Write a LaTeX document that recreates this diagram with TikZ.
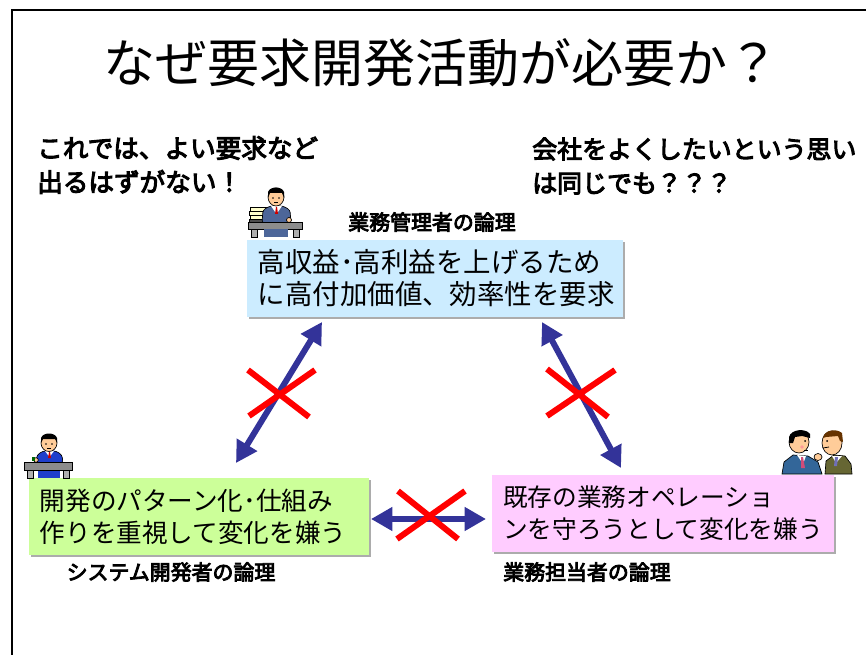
\documentclass[tikz,border=0pt]{standalone}
\usepackage{fontspec}
\newfontfamily\jp{Noto Sans CJK JP}
\newfontfamily\jpb{Noto Sans CJK JP}[FakeBold=4]
\usetikzlibrary{arrows.meta,shadows}

\definecolor{topfill}{HTML}{CCECFF}
\definecolor{devfill}{HTML}{CCFF99}
\definecolor{opsfill}{HTML}{FFCCFF}
\definecolor{arrowblue}{HTML}{333399}
\definecolor{crossred}{HTML}{FF0000}
\definecolor{skin}{HTML}{FFCC99}
\definecolor{suitgray}{HTML}{4D6699}
\definecolor{suitblue}{HTML}{1F3FCC}
\definecolor{suitteal}{HTML}{336699}
\definecolor{suitolive}{HTML}{666633}
\definecolor{deskgray}{HTML}{8C8C8C}
\definecolor{paper}{HTML}{FFFFCC}
\definecolor{hairbrown}{HTML}{663300}

\tikzset{
  opinion/.style={rectangle, inner xsep=8pt, inner ysep=2pt, minimum height=57.75pt,
    align=left, anchor=center,
    general shadow={fill=gray!65, shadow xshift=1.5pt, shadow yshift=-1.5pt}},
  conflict/.style={draw=arrowblue, line width=4.5pt,
    {Triangle[length=16pt,width=17pt]}-{Triangle[length=16pt,width=17pt]}},
  cross/.style={draw=crossred, line width=4.5pt},
  remark/.style={font=\jpb\fontsize{19.2}{25.5}\selectfont, align=left, inner sep=0pt},
  rolelabel/.style={font=\jpb\fontsize{15.7}{18}\selectfont, inner sep=0pt},
  outline/.style={draw=black, line width=0.5pt},
}

\begin{document}
\begin{tikzpicture}[x=0.75pt,y=-0.75pt]
\useasboundingbox (0,0) rectangle (866,655);

% slide frame
\draw[line width=1.5pt] (12,655) -- (12,10) -- (866,10);

% heading
\node[font=\jp\fontsize{39}{41}\selectfont, inner sep=0pt] (title) at (441,63) {なぜ要求開発活動が必要か？};

% side remarks
\node[remark, anchor=west] (remarkL) at (37,165) {これでは、よい要求など\\出るはずがない！};
\node[remark, anchor=west, font=\jpb\fontsize{18.7}{25.5}\selectfont] (remarkR) at (532,166) {会社をよくしたいという思い\\は同じでも？？？};

% the three positions
\node[opinion, fill=topfill, text width=266pt, font=\jp\fontsize{20.6}{24}\selectfont] (mgmt) at (435,278.5)
  {高収益･高利益を上げるため\\に高付加価値、効率性を要求};
\node[opinion, fill=devfill, text width=238pt, font=\jp\fontsize{19.2}{24}\selectfont, inner xsep=8.5pt] (dev) at (198.5,516.5)
  {開発のパターン化･仕組み\\作りを重視して変化を嫌う};
\node[opinion, fill=opsfill, text width=240pt, font=\jp\fontsize{18.5}{24}\selectfont] (ops) at (663,513.5)
  {既存の業務オペレーショ\\ンを守ろうとして変化を嫌う};

% role labels
\node[rolelabel] (mgmtlabel) at (432,222) {業務管理者の論理};
\node[rolelabel] (devlabel) at (171,572) {システム開発者の論理};
\node[rolelabel] (opslabel) at (587,572) {業務担当者の論理};

% conflict arrows
\coordinate (mgmtL) at (322,322);
\coordinate (devT) at (236,463);
\coordinate (mgmtR) at (542,322);
\coordinate (opsT) at (621,468);
\coordinate (devR) at (371,519);
\coordinate (opsL) at (486,519);
\draw[conflict] (devT) -- (mgmtL);
\draw[conflict] (opsT) -- (mgmtR);
\draw[conflict] (devR) -- (opsL);

% crosses over the arrows
\draw[cross] (248,370) -- (309,417);
\draw[cross] (315,370) -- (249,416);
\draw[cross] (547,369) -- (608,417);
\draw[cross] (615,370) -- (547,416);
\draw[cross] (398,491) -- (458,539);
\draw[cross] (465,491) -- (397,539);

% manager at desk with a stack of papers
\filldraw[fill=paper, outline] (250,207) rectangle (268,211);
\filldraw[fill=paper, outline] (249,211) rectangle (268,215);
\filldraw[fill=paper, outline] (250,215) rectangle (268,219);
\filldraw[fill=black!70, outline] (249,219) rectangle (268,222);
\filldraw[fill=suitgray, outline, rounded corners=2pt] (262,223) -- (263,210) -- (270,206) -- (283,206) -- (290,210) -- (291,223) -- cycle;
\fill[white] (271,206) -- (282,206) -- (276.5,214) -- cycle;
\fill[red!80!black] (276,207) -- (277,207) -- (278,214) -- (275,214) -- cycle;
\filldraw[fill=skin, outline] (276,197) ellipse [x radius=8, y radius=9];
\fill[black] (268,198) -- (268,192) .. controls (270,186) and (282,186) .. (284,192) -- (284,198) -- (282,193) -- (270,193) -- cycle;
\fill[black] (273,198) circle (0.9) (279,198) circle (0.9);
\draw[black, line width=0.5pt] (274,202) -- (278,202);
\filldraw[fill=skin, outline] (289,220) circle (2.5);
\filldraw[fill=deskgray, outline] (248,222) rectangle (302,229);
\filldraw[fill=deskgray!70, outline] (251,229) rectangle (257,237);
\filldraw[fill=deskgray!70, outline] (293,229) rectangle (299,237);
\fill[suitgray] (264,229.5) rectangle (288,237);

% developer at desk
\filldraw[fill=suitblue, outline, rounded corners=2pt] (36,463) -- (37,455) -- (43,451) -- (56,451) -- (62,455) -- (63,463) -- cycle;
\fill[white] (45,451) -- (54,451) -- (49.5,457) -- cycle;
\fill[red!80!black] (49,452) -- (50,452) -- (51,458) -- (48,458) -- cycle;
\filldraw[fill=skin, outline] (49,443) ellipse [x radius=8, y radius=8.5];
\fill[black] (41,443) -- (41,438) .. controls (43,432) and (55,432) .. (57,438) -- (57,443) -- (55,439) -- (43,439) -- cycle;
\fill[black] (46,444) circle (0.9) (52,444) circle (0.9);
\draw[black, line width=0.5pt] (47,448) -- (51,448);
\filldraw[fill=skin, outline] (36,460) circle (2.3);
\fill[green!40!black] (32,457) rectangle (35,461);
\filldraw[fill=deskgray, outline] (24,462) rectangle (72,470);
\filldraw[fill=deskgray!70, outline] (27,470) rectangle (33,478);
\filldraw[fill=deskgray!70, outline] (63,470) rectangle (69,478);
\fill[suitblue] (38,470.5) rectangle (60,478);

% two staff members talking
\filldraw[fill=suitteal, outline] (782,474) -- (784,462) -- (793,455) -- (808,456) -- (818,462) -- (822,474) -- cycle;
\fill[white] (797,455) -- (806,456) -- (803,464) -- cycle;
\fill[purple!70] (801,457) -- (803,457) -- (805,468) -- (801,468) -- cycle;
\filldraw[fill=skin, outline] (818,457) ellipse [x radius=4, y radius=3.5];
\filldraw[fill=skin, outline] (799,442) ellipse [x radius=10, y radius=11];
\fill[black] (789,443) -- (789,437) .. controls (791,429) and (806,428) .. (810,434) -- (810,438) -- (802,436) -- (795,437) -- (793,443) -- cycle;
\fill[black] (805,441) circle (1);
\fill[red!40] (802,447) circle (1.8);
\draw[black, line width=0.5pt] (804,450) -- (808,450);

\filldraw[fill=suitolive, outline] (825,474) -- (826,461) -- (834,455) -- (845,456) -- (851,464) -- (852,474) -- cycle;
\fill[white] (832,456) -- (842,456) -- (836,463) -- cycle;
\fill[arrowblue!70] (835,457) -- (838,457) -- (837,466) -- (834,466) -- cycle;
\filldraw[fill=skin, outline] (832,443) ellipse [x radius=10, y radius=12];
\fill[hairbrown] (823,438) .. controls (824,430) and (836,428) .. (842,433) -- (843,442) -- (840,441) -- (838,436) -- (826,437) -- cycle;
\fill[black] (827,441) circle (1);
\draw[black, line width=0.6pt] (823,448) -- (829,447);
\end{tikzpicture}
\end{document}
